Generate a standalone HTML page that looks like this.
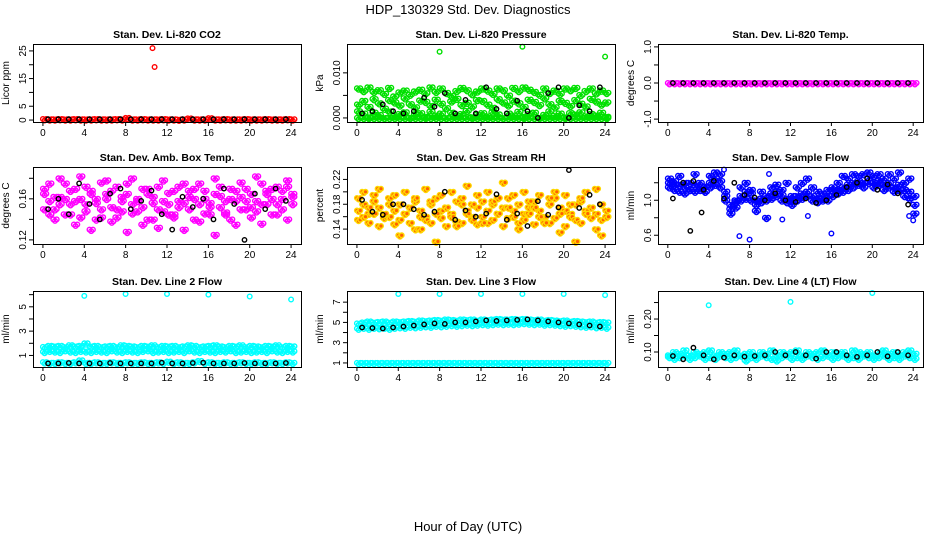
<!DOCTYPE html>
<html><head><meta charset="utf-8">
<style>
html,body{margin:0;padding:0;background:#fff;}
svg{display:block;font-family:"Liberation Sans",sans-serif;}
</style></head>
<body>
<svg id="chart" width="936" height="540" viewBox="0 0 936 540" xmlns="http://www.w3.org/2000/svg">
<text x="468" y="14" text-anchor="middle" font-size="13">HDP_130329  Std. Dev. Diagnostics</text>
<text x="468" y="531" text-anchor="middle" font-size="13">Hour of Day (UTC)</text>
</svg>
<script>
// ---- data ----
const xTicks = [0,4,8,12,16,20,24];
const hoursHalf = [0,0.5,1,1.5,2,2.5,3,3.5,4,4.5,5,5.5,6,6.5,7,7.5,8,8.5,9,9.5,10,10.5,11,11.5,12,12.5,13,13.5,14,14.5,15,15.5,16,16.5,17,17.5,18,18.5,19,19.5,20,20.5,21,21.5,22,22.5,23,23.5,24];
const hoursBlk = [0.5,1.5,2.5,3.5,4.5,5.5,6.5,7.5,8.5,9.5,10.5,11.5,12.5,13.5,14.5,15.5,16.5,17.5,18.5,19.5,20.5,21.5,22.5,23.5];

const co2Vals = [0.4,0.3,0.3,0.4,0.3,0.3,0.4,0.3,0.3,0.3,0.4,0.3,0.3,0.3,0.4,0.3,0.8,0.3,0.3,0.4,0.3,0.3,0.3,0.4,0.3,0.3,0.2,0.3,0.6,0.3,0.3,0.3,0.7,0.3,0.3,0.4,0.3,0.3,0.3,0.4,0.3,0.3,0.3,0.4,0.3,0.3,0.3,0.4,0.3];
const co2Blk = [0.3,0.3,0.3,0.3,0.3,0.3,0.3,0.3,0.3,0.3,0.3,0.3,0.3,0.3,0.3,0.3,0.3,0.3,0.3,0.3,0.3,0.3,0.3,0.3];
const co2OutH = [10.6,10.8];
const co2OutV = [26,19.2];

const pressHi = [0.0066,0.006,0.0068,0.0058,0.0062,0.0054,0.0067,0.0048,0.0057,0.0061,0.0052,0.0059,0.0063,0.0055,0.0068,0.0058,0.0066,0.0056,0.0049,0.006,0.0067,0.0062,0.0053,0.0059,0.0066,0.0061,0.0054,0.0066,0.0062,0.005,0.0067,0.006,0.0068,0.0063,0.0058,0.0052,0.0066,0.0056,0.0061,0.0054,0.0066,0.0062,0.0067,0.0051,0.006,0.0066,0.0055,0.0061,0.0056];
const pressMid = [0.003,0.0038,0.0025,0.0042,0.0033,0.0021,0.004,0.0035,0.0028,0.0044,0.0031,0.0024,0.0039,0.0036,0.0027,0.0041,0.0032,0.0022,0.0037,0.0043,0.0029,0.0034,0.0026,0.004,0.0038,0.003,0.0023,0.0042,0.0035,0.0028,0.0039,0.0033,0.0025,0.0041,0.0036,0.0029,0.0044,0.0031,0.0024,0.0038,0.0034,0.0027,0.004,0.0032,0.0026,0.0043,0.0037,0.003,0.0035];
const pressLo = [0.0015,0.001,0.0002,0.0012,0.0007,0,0.0015,0.0004,0.0009,0.0013,0.0001,0.0008,0.0011,0.0003,0.0014,0.0006,0.001,0,0.0012,0.0005,0.0009,0.0016,0.0002,0.0007,0.0011,0.0004,0.0013,0.0008,0,0.001,0.0006,0.0014,0.0003,0.0009,0.0012,0.0001,0.0007,0.0015,0.0005,0.001,0.0002,0.0011,0.0008,0.0013,0.0004,0.0009,0.0006,0.0012,0.0003];
const pressZero = [0,0,0,0,0,0,0,0,0,0,0,0,0,0,0,0,0,0,0,0,0,0,0,0,0,0,0,0,0,0,0,0,0,0,0,0,0,0,0,0,0,0,0,0,0,0,0,0,0];
const pressBlk = [0.001,0.0015,0.003,0.0015,0.001,0.0015,0.0045,0.0025,0.0055,0.001,0.004,0.001,0.0068,0.002,0.001,0.0038,0.0015,0,0.0055,0.0068,0,0.0028,0.0015,0.0068];
const pressOutH = [8,16,24];
const pressOutV = [0.0147,0.0158,0.0136];

const tempVals = [0,0,0,0,0,0,0,0,0,0,0,0,0,0,0,0,0,0,0,0,0,0,0,0,0,0,0,0,0,0,0,0,0,0,0,0,0,0,0,0,0,0,0,0,0,0,0,0,0];
const tempBlk = [0,0,0,0,0,0,0,0,0,0,0,0,0,0,0,0,0,0,0,0,0,0,0,0];

const ambA = [0.165,0.175,0.15,0.18,0.16,0.145,0.17,0.182,0.155,0.168,0.14,0.176,0.16,0.152,0.172,0.148,0.165,0.18,0.158,0.135,0.17,0.162,0.15,0.178,0.166,0.145,0.172,0.156,0.168,0.14,0.175,0.16,0.152,0.18,0.163,0.147,0.17,0.158,0.176,0.15,0.165,0.182,0.155,0.168,0.145,0.172,0.16,0.178,0.162];
const ambB = [0.15,0.158,0.14,0.162,0.145,0.155,0.135,0.16,0.148,0.13,0.156,0.142,0.165,0.138,0.15,0.158,0.128,0.146,0.16,0.152,0.14,0.156,0.132,0.148,0.155,0.142,0.158,0.13,0.15,0.16,0.138,0.146,0.156,0.125,0.152,0.145,0.16,0.135,0.15,0.158,0.142,0.148,0.136,0.155,0.16,0.145,0.15,0.14,0.155];
const ambC = [0.17,0.145,0.162,0.155,0.175,0.168,0.158,0.142,0.172,0.165,0.16,0.15,0.178,0.168,0.142,0.162,0.175,0.155,0.148,0.17,0.165,0.14,0.172,0.158,0.145,0.168,0.152,0.175,0.162,0.17,0.155,0.168,0.145,0.165,0.172,0.158,0.14,0.168,0.162,0.17,0.152,0.158,0.175,0.165,0.17,0.155,0.168,0.172,0.165];
const ambBlk = [0.15,0.16,0.145,0.175,0.155,0.14,0.165,0.17,0.15,0.158,0.168,0.145,0.13,0.162,0.152,0.16,0.14,0.17,0.155,0.12,0.165,0.15,0.17,0.158];

const rhA = [0.17,0.18,0.165,0.185,0.175,0.16,0.19,0.17,0.18,0.165,0.175,0.185,0.17,0.16,0.18,0.19,0.17,0.175,0.165,0.185,0.18,0.17,0.16,0.175,0.185,0.17,0.18,0.165,0.175,0.19,0.17,0.18,0.165,0.175,0.185,0.17,0.16,0.18,0.19,0.175,0.17,0.165,0.18,0.185,0.17,0.175,0.165,0.18,0.17];
const rhB = [0.155,0.16,0.15,0.165,0.145,0.158,0.16,0.148,0.155,0.165,0.15,0.14,0.16,0.155,0.15,0.165,0.158,0.145,0.16,0.152,0.15,0.165,0.155,0.148,0.16,0.15,0.155,0.165,0.145,0.158,0.16,0.15,0.155,0.165,0.148,0.16,0.152,0.15,0.158,0.165,0.145,0.16,0.155,0.15,0.165,0.158,0.14,0.155,0.16];
const rhC = [0.19,0.2,0.175,0.195,0.205,0.165,0.18,0.195,0.13,0.2,0.175,0.19,0.14,0.205,0.185,0.12,0.195,0.175,0.2,0.145,0.19,0.21,0.18,0.195,0.15,0.2,0.185,0.19,0.215,0.175,0.195,0.14,0.2,0.185,0.175,0.195,0.15,0.19,0.2,0.135,0.195,0.18,0.12,0.19,0.2,0.175,0.205,0.13,0.16];
const rhBlk = [0.187,0.168,0.163,0.18,0.18,0.172,0.163,0.168,0.2,0.155,0.17,0.16,0.165,0.196,0.155,0.165,0.145,0.185,0.163,0.175,0.235,0.174,0.195,0.18];

const flowA = [1.2,1.22,1.18,1.15,1.2,1.17,1.14,1.16,1.2,1.25,1.22,1.1,0.95,1.0,1.05,1.1,1.08,1.0,1.02,1.05,1.08,1.1,1.06,1.02,1.0,1.05,1.08,1.1,1.05,1.02,1.0,1.05,1.1,1.12,1.15,1.18,1.2,1.22,1.2,1.25,1.2,1.22,1.18,1.2,1.15,1.18,1.12,1.1,1.05];
const flowB = [1.15,1.12,1.1,1.08,1.12,1.1,1.12,1.1,1.15,1.18,1.15,1.05,0.9,0.98,1.0,1.02,1.0,0.95,0.98,1.0,1.02,1.05,1.0,0.98,0.95,1.0,1.02,1.05,1.0,0.98,1.02,1.0,1.05,1.08,1.1,1.12,1.15,1.18,1.15,1.2,1.15,1.18,1.12,1.15,1.1,1.12,1.05,1.02,0.95];
const flowC = [1.25,1.18,1.28,1.2,1.12,1.3,1.2,1.1,1.28,1.32,1.3,1.0,0.85,0.92,1.15,1.2,1.12,0.88,1.1,0.8,1.15,1.18,1.12,1.2,1.05,1.15,1.2,1.25,1.15,1.1,1.08,1.12,1.15,1.2,1.28,1.25,1.3,1.28,1.3,1.32,1.28,1.3,1.25,1.3,1.25,1.32,1.2,1.25,0.85];
const flowOutH = [7,8,16,9.9,24,23.6,5.5,13.7,11.2];
const flowOutV = [0.59,0.55,0.62,1.3,0.77,0.82,1.35,0.82,0.78];
const flowBlk = [1.02,1.2,1.22,1.12,1.22,1.02,1.2,1.06,1.03,1.0,1.08,1.0,0.98,1.02,0.97,1.0,1.06,1.15,1.2,1.25,1.12,1.18,1.08,0.95];
const flowBlkOutH = [2.2,3.3];
const flowBlkOutV = [0.65,0.86];

const l2A = [1.7,1.8,1.75,1.8,1.7,1.85,1.75,1.8,2.0,1.75,1.8,1.7,1.75,1.8,1.7,1.85,1.8,1.75,1.7,1.8,1.75,1.85,1.7,1.8,1.75,1.8,1.7,1.75,1.85,1.8,1.7,1.75,1.8,1.85,1.75,1.7,1.8,1.75,1.85,1.7,1.8,1.75,1.7,1.8,1.75,1.85,1.7,1.8,1.75];
const l2B = [1.3,1.4,1.35,1.3,1.45,1.35,1.3,1.4,1.35,1.3,1.4,1.35,1.3,1.45,1.35,1.3,1.4,1.35,1.3,1.4,1.45,1.3,1.35,1.4,1.3,1.35,1.4,1.3,1.45,1.35,1.3,1.4,1.35,1.3,1.4,1.35,1.45,1.3,1.35,1.4,1.3,1.35,1.4,1.3,1.45,1.35,1.3,1.4,1.35];
const l2Lo = [0.45,0.4,0.4,0.45,0.4,0.4,0.45,0.6,0.4,0.4,0.45,0.4,0.4,0.45,0.4,0.4,0.45,0.4,0.4,0.45,0.4,0.4,0.45,0.4,0.5,0.4,0.45,0.4,0.4,0.45,0.55,0.4,0.45,0.4,0.4,0.45,0.4,0.4,0.45,0.4,0.4,0.45,0.4,0.4,0.45,0.4,0.4,0.45,0.4];
const l2Blk = [0.35,0.35,0.38,0.35,0.35,0.35,0.38,0.35,0.35,0.35,0.35,0.4,0.35,0.35,0.38,0.4,0.35,0.35,0.35,0.38,0.35,0.35,0.35,0.38];
const l2OutH = [4,8,12,16,20,24];
const l2OutV = [5.9,6.05,6.05,6.0,5.85,5.6];

const l3A = [4.9,5.0,5.1,5.0,5.05,5.1,5.0,5.1,5.05,5.1,5.15,5.1,5.2,5.15,5.2,5.25,5.2,5.3,5.25,5.2,5.3,5.25,5.3,5.2,5.3,5.25,5.3,5.35,5.3,5.3,5.35,5.3,5.35,5.3,5.25,5.3,5.2,5.25,5.2,5.15,5.2,5.1,5.15,5.1,5.05,5.1,5.0,5.05,5.0];
const l3B = [4.4,4.5,4.4,4.5,4.45,4.5,4.4,4.5,4.55,4.5,4.6,4.55,4.6,4.65,4.6,4.7,4.65,4.7,4.75,4.7,4.75,4.8,4.75,4.8,4.85,4.8,4.85,4.9,4.85,4.9,4.85,4.9,4.95,4.9,4.85,4.9,4.8,4.85,4.8,4.75,4.7,4.75,4.7,4.65,4.6,4.65,4.55,4.6,4.5];
const l3Lo = [1.0,1.0,1.0,1.0,1.0,1.0,1.0,1.0,1.0,1.0,1.0,1.0,1.0,1.0,1.0,1.0,1.0,1.0,1.0,1.0,1.0,1.0,1.0,1.0,1.0,1.0,1.0,1.0,1.0,1.0,1.0,1.0,1.0,1.0,1.0,1.0,1.0,1.0,1.0,1.0,1.0,1.0,1.0,1.0,1.0,1.0,1.0,1.0,1.0];
const l3Blk = [4.5,4.45,4.4,4.5,4.6,4.7,4.8,4.9,4.85,5.0,5.0,5.1,5.2,5.15,5.2,5.25,5.3,5.2,5.1,5.0,4.9,4.8,4.7,4.6];
const l3OutH = [4,8,12,16,20,24];
const l3OutV = [7.8,7.8,7.8,7.8,7.8,7.7];

const l4A = [0.09,0.1,0.095,0.105,0.09,0.1,0.095,0.1,0.105,0.09,0.1,0.095,0.1,0.105,0.09,0.095,0.1,0.09,0.1,0.095,0.105,0.09,0.1,0.095,0.1,0.105,0.09,0.1,0.095,0.1,0.105,0.09,0.1,0.095,0.1,0.09,0.105,0.1,0.095,0.1,0.09,0.1,0.105,0.095,0.1,0.09,0.1,0.105,0.095];
const l4B = [0.085,0.08,0.085,0.09,0.08,0.085,0.09,0.08,0.085,0.08,0.09,0.085,0.08,0.085,0.09,0.075,0.085,0.08,0.09,0.085,0.08,0.075,0.085,0.09,0.08,0.085,0.08,0.09,0.085,0.08,0.085,0.09,0.08,0.085,0.09,0.08,0.085,0.08,0.09,0.085,0.08,0.085,0.09,0.08,0.085,0.08,0.09,0.085,0.08];
const l4Blk = [0.088,0.078,0.113,0.09,0.078,0.083,0.09,0.086,0.088,0.09,0.1,0.09,0.1,0.09,0.08,0.1,0.1,0.09,0.085,0.09,0.1,0.087,0.1,0.09];
const l4OutH = [4,12,20];
const l4OutV = [0.242,0.252,0.279];

// ---- layout ----
const colX = [[33,301],[347,615],[658,923]];
const rowY = [[44,122],[167,244],[291,367]];
const NS = "http://www.w3.org/2000/svg";
const svg = document.getElementById('chart');
function mk(tag, attrs, parent){ const e=document.createElementNS(NS,tag); for(const k in attrs) e.setAttribute(k,attrs[k]); (parent||svg).appendChild(e); return e; }

const panels = [
 {title:"Stan. Dev. Li-820 CO2", ylab:"Licor ppm", dom:[-0.7,27.5], ticks:[0,5,10,15,20,25], labels:["0","5","","15","","25"], color:"#ff0000",
  series:[hoursHalf,co2Vals], blk:co2Blk, outH:co2OutH, outV:co2OutV},
 {title:"Stan. Dev. Li-820 Pressure", ylab:"kPa", dom:[-0.0009,0.0164], ticks:[0,0.005,0.01], labels:["0.000","","0.010"], color:"#00e000",
  series:[hoursHalf,pressHi,hoursHalf,pressMid,hoursHalf,pressLo,hoursHalf,pressZero], blk:pressBlk, outH:pressOutH, outV:pressOutV},
 {title:"Stan. Dev. Li-820 Temp.", ylab:"degrees C", dom:[-1.08,1.08], ticks:[-1,-0.5,0,0.5,1], labels:["-1.0","","0.0","","1.0"], color:"#ff00ff",
  series:[hoursHalf,tempVals], blk:tempBlk},
 {title:"Stan. Dev. Amb. Box Temp.", ylab:"degrees C", dom:[0.116,0.191], ticks:[0.12,0.14,0.16,0.18], labels:["0.12","","0.16",""], color:"#ff00ff",
  series:[hoursHalf,ambA,hoursHalf,ambB,hoursHalf,ambC], blk:ambBlk},
 {title:"Stan. Dev. Gas Stream RH", ylab:"percent", dom:[0.116,0.24], ticks:[0.14,0.16,0.18,0.2,0.22], labels:["0.14","","0.18","","0.22"], color:"#ffd800", fill:"#ff6000",
  series:[hoursHalf,rhA,hoursHalf,rhB,hoursHalf,rhC], blk:rhBlk},
 {title:"Stan. Dev. Sample Flow", ylab:"ml/min", dom:[0.5,1.38], ticks:[0.6,0.8,1.0,1.2], labels:["0.6","","1.0",""], color:"#0000ff",
  series:[hoursHalf,flowA,hoursHalf,flowB,hoursHalf,flowC], blk:flowBlk, outH:flowOutH, outV:flowOutV, blkOutH:flowBlkOutH, blkOutV:flowBlkOutV},
 {title:"Stan. Dev. Line 2 Flow", ylab:"ml/min", dom:[0.05,6.3], ticks:[1,2,3,4,5,6], labels:["1","","3","","5",""], color:"#00ffff",
  series:[hoursHalf,l2A,hoursHalf,l2B,hoursHalf,l2Lo], blk:l2Blk, outH:l2OutH, outV:l2OutV},
 {title:"Stan. Dev. Line 3 Flow", ylab:"ml/min", dom:[0.6,8.1], ticks:[1,2,3,4,5,6,7], labels:["1","","3","","5","","7"], color:"#00ffff",
  series:[hoursHalf,l3A,hoursHalf,l3B,hoursHalf,l3Lo], blk:l3Blk, outH:l3OutH, outV:l3OutV},
 {title:"Stan. Dev. Line 4 (LT) Flow", ylab:"ml/min", dom:[0.0545,0.285], ticks:[0.1,0.15,0.2,0.25], labels:["0.10","","0.20",""], color:"#00ffff",
  series:[hoursHalf,l4A,hoursHalf,l4B], blk:l4Blk, outH:l4OutH, outV:l4OutV}
];

panels.forEach((p,i)=>{
  const [x0,x1]=colX[i%3], [y0,y1]=rowY[Math.floor(i/3)];
  const xs = h => x0 + (h+0.96)/25.92*(x1-x0);
  const ys = v => y1 - (v-p.dom[0])/(p.dom[1]-p.dom[0])*(y1-y0);
  const g = mk('g',{});
  
  
  const t = mk('text',{x:(x0+x1)/2,y:y0-6,'text-anchor':'middle','font-size':'10.5','font-weight':'bold'},g);
  t.textContent=p.title;
  
  
  const yl = mk('text',{x:0,y:0,'text-anchor':'middle','font-size':'10',transform:`translate(${x0-24},${(y0+y1)/2}) rotate(-90)`},g);
  yl.textContent=p.ylab;
  
  
  const pts = mk('g',{fill:p.fill||'none',stroke:p.color,'stroke-width':'1.4'},g);
  
  
  for(let s=0;s<p.series.length;s+=2){
    const H=p.series[s], V=p.series[s+1];
    V.forEach((v,k)=>{ [0,1.7,3.4].forEach(dx=>{
      mk('circle',{cx:(xs(H[k])+dx).toFixed(1),cy:(ys(v)+(dx===1.7?1.5:0)).toFixed(1),r:2.3},pts);}); });
  }
  if(p.outH) p.outH.forEach((h,k)=>mk('circle',{cx:xs(h).toFixed(1),cy:ys(p.outV[k]).toFixed(1),r:2.3},pts));
  const bk = mk('g',{fill:'none',stroke:'#000','stroke-width':'1.4'},g);
  
  
  p.blk.forEach((v,k)=>mk('circle',{cx:xs(hoursBlk[k]).toFixed(1),cy:ys(v).toFixed(1),r:2.2},bk));
  if(p.blkOutH) p.blkOutH.forEach((h,k)=>mk('circle',{cx:xs(h).toFixed(1),cy:ys(p.blkOutV[k]).toFixed(1),r:2.2},bk));
  const b = mk('rect',{x:x0+0.5,y:y0+0.5,width:x1-x0,height:y1-y0,fill:'none',stroke:'#000','stroke-width':'1'},g);
  
  
  const xa = mk('g',{'font-size':'10'},g);
  
  
  xTicks.forEach(tv=>{ const X=xs(tv); mk('line',{x1:X,x2:X,y1:y1,y2:y1+4,stroke:'#000'},xa);
    const tl=mk('text',{x:X,y:y1+14,'text-anchor':'middle'},xa); tl.textContent=tv; });
  const ya = mk('g',{'font-size':'10'},g);
  
  
  p.ticks.forEach((tv,k)=>{ const Y=ys(tv); mk('line',{x1:x0-4,x2:x0,y1:Y,y2:Y,stroke:'#000'},ya);
    if(p.labels[k]){ const tl=mk('text',{x:0,y:0,'text-anchor':'middle',transform:`translate(${x0-7},${Y}) rotate(-90)`},ya); tl.textContent=p.labels[k]; }});
});
</script>
</body></html>
